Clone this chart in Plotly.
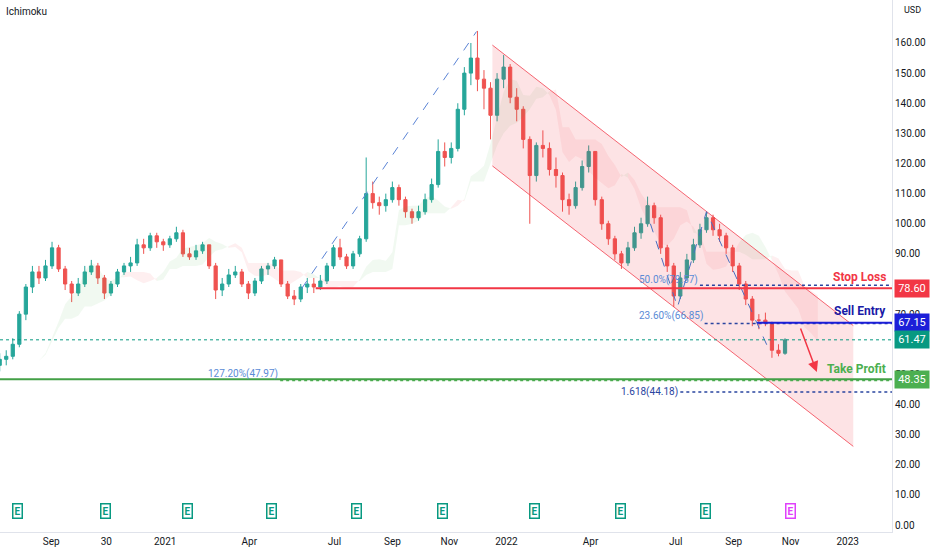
import numpy as np
import pandas as pd
import plotly.graph_objs as go

# weekly candles
opens = [53, 55, 56, 60, 70, 79, 84, 82, 86, 92, 85, 80, 77, 80, 84, 86, 82, 77, 80, 84,
         86, 87, 93, 92, 96, 94, 93, 95, 97, 90, 89, 91, 93, 86, 78, 80, 83, 84, 80, 77,
         81, 85, 86, 88, 80, 76, 75, 79, 80, 79, 81, 86, 92, 89, 86, 90, 95, 110, 107, 106,
         108, 112, 108, 104, 102, 104, 108, 113, 124, 122, 125, 138, 150, 155, 148, 145, 136, 148, 152, 142,
         138, 128, 116, 126, 125, 118, 116, 108, 106, 112, 119, 124, 108, 100, 95, 90, 87, 92, 97, 100,
         106, 102, 92, 86, 76, 82, 88, 93, 98, 102, 98, 96, 92, 86, 80, 75, 68, 68, 67, 58, 57]
highs = [57, 58, 62, 71, 80, 86, 86, 88, 94, 93, 86, 81, 82, 86, 88, 87, 83, 81, 85, 87,
         89, 95, 95, 97, 97, 95, 96, 99, 98, 92, 93, 94, 93, 87, 82, 85, 86, 85, 81, 82,
         86, 87, 89, 88, 81, 78, 80, 82, 82, 83, 87, 93, 95, 90, 91, 96, 122, 114, 109, 110,
         114, 113, 109, 105, 106, 110, 115, 128, 127, 127, 140, 152, 160, 164, 151, 147, 150, 156, 153, 145,
         139, 129, 127, 131, 127, 122, 117, 110, 114, 121, 126, 124, 109, 101, 96, 91, 94, 99, 102, 109,
         107, 103, 93, 87, 84, 90, 95, 100, 104, 103, 100, 97, 93, 87, 81, 76, 70, 70.5, 67.5, 60, 62]
lows = [51, 53, 55, 59, 68, 77, 80, 81, 85, 84, 78, 74, 76, 79, 83, 80, 75, 76, 79, 83,
        84, 86, 90, 91, 92, 91, 92, 94, 89, 88, 88, 90, 85, 75, 76, 79, 82, 79, 75, 76,
        80, 83, 85, 79, 75, 73, 74, 77, 77, 78, 80, 85, 88, 85, 85, 89, 94, 105, 103, 104,
        107, 106, 102, 100, 101, 103, 107, 112, 119, 120, 124, 136, 146, 144, 138, 128, 134, 145, 140, 134,
        125, 100, 114, 122, 116, 112, 104, 103, 105, 111, 117, 106, 98, 93, 88, 85, 86, 91, 95, 99,
        100, 90, 84, 72.4, 75, 81, 87, 92, 97, 96, 94, 90, 84, 78, 73, 66, 65, 66, 55.5, 56, 56.5]
closes = [55, 56, 60, 70, 79, 84, 82, 86, 92, 85, 80, 77, 80, 84, 86, 82, 77, 80, 84, 86,
          87, 93, 92, 96, 94, 93, 95, 97, 90, 89, 91, 93, 86, 78, 80, 83, 84, 80, 77, 81,
          85, 86, 88, 80, 76, 75, 79, 80, 79, 81, 86, 92, 89, 86, 90, 95, 110, 107, 106, 108,
          112, 108, 104, 102, 104, 108, 113, 124, 122, 125, 138, 150, 155, 148, 145, 136, 148, 152, 142, 138,
          128, 116, 126, 125, 118, 116, 108, 106, 112, 119, 124, 108, 100, 95, 90, 87, 92, 97, 100, 106,
          102, 92, 86, 76, 82, 88, 93, 98, 102, 98, 96, 92, 86, 80, 75, 68, 68, 67, 58, 57, 61.47]
dates = pd.date_range("2020-07-08", periods=len(closes), freq="7D")

# levels
stop_loss = 78.60
sell_entry = 67.15
take_profit = 48.35
last_price = 61.47
fib_levels = [79.57, 66.85, 47.97, 44.18]

# channel corners (date, upper, lower)
chan_dates = ["2021-12-17", "2023-01-07"]
chan_upper = [159.3, 66.2]
chan_lower = [119.2, 26.1]

# swing lines
trend_dates = ["2021-05-27", "2021-11-30"]
trend_vals = [78.5, 163.8]
swing_dates = ["2022-06-04", "2022-07-03", "2022-08-03", "2022-10-10"]
swing_vals = [100, 72.4, 104, 57.4]

earn_dates = ["2020-07-27", "2020-10-29", "2021-01-25", "2021-04-25", "2021-07-25",
              "2021-10-25", "2022-01-31", "2022-05-03", "2022-08-02", "2022-11-01"]

tick_dates = ["2020-09-01", "2020-10-30", "2021-01-01", "2021-04-01", "2021-07-01", "2021-09-01",
              "2021-11-01", "2022-01-01", "2022-04-01", "2022-07-01", "2022-09-01", "2022-11-01", "2023-01-01"]
tick_text = ["Sep", "30", "2021", "Apr", "Jul", "Sep", "Nov", "2022", "Apr", "Jul", "Sep", "Nov", "2023"]
price_ticks = [0, 10, 20, 30, 40, 50, 70, 80, 90, 100, 110, 120, 130, 140, 150, 160]  # 60 sits under the last-price tag

X0, X1 = "2020-07-08 08:00", "2023-02-17 10:00"
FONT = "Roboto"

fig = go.Figure()

# ichimoku cloud from weekly bars
hi = np.array(highs)
lo = np.array(lows)
n = len(closes)


def mid(p):
    out = []
    for i in range(n):
        s = max(0, i - p + 1)
        out.append((hi[s:i + 1].max() + lo[s:i + 1].min()) / 2)
    return np.array(out)


span_a = (mid(2) + mid(5)) / 2
span_b = mid(10)
cloud_x = dates + pd.Timedelta(days=35)
up = span_a >= span_b
start = 0
for i in range(1, n + 1):
    if i == n or up[i] != up[start]:
        seg = slice(start, min(i + 1, n))
        col = "rgba(76,175,80,0.08)" if up[start] else "rgba(242,54,69,0.08)"
        fig.add_trace(go.Scatter(x=cloud_x[seg], y=span_b[seg], mode="lines",
                                 line=dict(width=0), hoverinfo="skip", showlegend=False))
        fig.add_trace(go.Scatter(x=cloud_x[seg], y=span_a[seg], mode="lines", fill="tonexty",
                                 fillcolor=col, line=dict(width=0), hoverinfo="skip", showlegend=False))
        start = i

# channel
fig.add_trace(go.Scatter(x=[chan_dates[0], chan_dates[1], chan_dates[1], chan_dates[0], chan_dates[0]],
                         y=[chan_upper[0], chan_upper[1], chan_lower[1], chan_lower[0], chan_upper[0]],
                         fill="toself", fillcolor="rgba(242,54,69,0.14)", mode="lines",
                         line=dict(width=0), showlegend=False, hoverinfo="skip"))
fig.add_trace(go.Scatter(x=chan_dates, y=chan_upper, mode="lines",
                         line=dict(color="rgba(242,54,69,0.75)", width=1), showlegend=False))
fig.add_trace(go.Scatter(x=chan_dates, y=chan_lower, mode="lines",
                         line=dict(color="rgba(242,54,69,0.75)", width=1), showlegend=False))

# dashed swing lines
fig.add_trace(go.Scatter(x=trend_dates, y=trend_vals, mode="lines",
                         line=dict(color="#5b84d6", width=1, dash="dash"), showlegend=False))
fig.add_trace(go.Scatter(x=swing_dates, y=swing_vals, mode="lines",
                         line=dict(color="#4a6fc0", width=1, dash="dash"), showlegend=False))

# horizontal levels
fig.add_trace(go.Scatter(x=[X0, X1], y=[last_price] * 2, mode="lines",
                         line=dict(color="#089981", width=1, dash="dot"), showlegend=False))
fig.add_trace(go.Scatter(x=["2022-07-27", X1], y=[fib_levels[0]] * 2, mode="lines",
                         line=dict(color="#2a45a0", width=1.5, dash="dot"), showlegend=False))
fig.add_trace(go.Scatter(x=["2022-08-01", X1], y=[fib_levels[1]] * 2, mode="lines",
                         line=dict(color="#2a45a0", width=1.5, dash="dot"), showlegend=False))
fig.add_trace(go.Scatter(x=["2021-05-04", X1], y=[fib_levels[2]] * 2, mode="lines",
                         line=dict(color="#4caf50", width=1.5, dash="dot"), showlegend=False))
fig.add_trace(go.Scatter(x=["2022-07-06", X1], y=[fib_levels[3]] * 2, mode="lines",
                         line=dict(color="#2a45a0", width=1.5, dash="dot"), showlegend=False))
fig.add_trace(go.Scatter(x=["2021-06-11", X1], y=[stop_loss] * 2, mode="lines",
                         line=dict(color="#f23645", width=2), showlegend=False))
fig.add_trace(go.Scatter(x=["2022-09-26", X1], y=[sell_entry] * 2, mode="lines",
                         line=dict(color="#1c1fd8", width=2), showlegend=False))
fig.add_trace(go.Scatter(x=[X0, X1], y=[take_profit] * 2, mode="lines",
                         line=dict(color="#43a047", width=2), showlegend=False))

# candles
fig.add_trace(go.Candlestick(x=dates, open=opens, high=highs, low=lows, close=closes,
                             increasing=dict(line=dict(color="#26a69a", width=1), fillcolor="#26a69a"),
                             decreasing=dict(line=dict(color="#ef5350", width=1), fillcolor="#ef5350"),
                             whiskerwidth=0, showlegend=False))

ann = []
# right-side price tags
for val, col in [(stop_loss, "#f23645"), (sell_entry, "#1c1fd8"), (last_price, "#089981"), (take_profit, "#4caf50")]:
    ann.append(dict(x=1, xref="paper", xanchor="left", xshift=2, y=val, yref="y", text=f"{val:.2f}",
                    showarrow=False, bgcolor=col, font=dict(color="white", size=11, family=FONT),
                    width=30, borderpad=2))
# level labels
ann.append(dict(x=X1, xref="x", xanchor="right", xshift=-4, y=82.4, text="<b>Stop Loss</b>", showarrow=False,
                font=dict(color="#f23645", size=12, family=FONT)))
ann.append(dict(x=X1, xref="x", xanchor="right", xshift=-4, y=70.9, text="<b>Sell Entry</b>", showarrow=False,
                font=dict(color="#1a1aa6", size=12, family=FONT)))
ann.append(dict(x=X1, xref="x", xanchor="right", xshift=-4, y=51.9, text="<b>Take Profit</b>", showarrow=False,
                font=dict(color="#4caf50", size=12, family=FONT)))
# fib labels
ann.append(dict(x="2022-07-27", xanchor="right", y=81.3, text="50.0%(79.57)", showarrow=False,
                font=dict(color="#5b8bd6", size=10, family=FONT)))
ann.append(dict(x="2022-08-01", xanchor="right", y=69.4, text="23.60%(66.85)", showarrow=False,
                font=dict(color="#5b8bd6", size=10, family=FONT)))
ann.append(dict(x="2021-05-04", xanchor="right", y=50.1, text="127.20%(47.97)", showarrow=False,
                font=dict(color="#5b8bd6", size=10, family=FONT)))
ann.append(dict(x="2022-07-06", xanchor="right", y=fib_levels[3], text="1.618(44.18)", showarrow=False,
                font=dict(color="#2a45a0", size=10, family=FONT)))
# arrow
ann.append(dict(x="2022-11-29", y=50.8, ax="2022-11-11", ay=65.7, axref="x", ayref="y",
                showarrow=True, arrowhead=2, arrowsize=1.4, arrowwidth=1.5, arrowcolor="#f23645", text=""))
# earnings markers
for i, d in enumerate(earn_dates):
    col = "#e040fb" if i == len(earn_dates) - 1 else "#089981"
    ann.append(dict(x=d, y=0.024, yref="paper", text="<b>E</b>", showarrow=False,
                    font=dict(color=col, size=10, family=FONT), bordercolor=col, borderwidth=1.5,
                    borderpad=1, bgcolor="white"))
# corner texts
ann.append(dict(x=0.005, xref="paper", y=1, yref="paper", yanchor="top", yshift=-4, xanchor="left",
                text="Ichimoku", showarrow=False, font=dict(color="#131722", size=10, family=FONT)))
ann.append(dict(x=1, xref="paper", xanchor="left", xshift=10, y=1, yref="paper", yanchor="top", yshift=-3,
                text="USD", showarrow=False, font=dict(color="#131722", size=9, family=FONT)))

fig.update_layout(
    width=932, height=550,
    margin=dict(l=0, r=40, t=0, b=18),
    paper_bgcolor="white", plot_bgcolor="white",
    font=dict(family=FONT, size=10, color="#131722"),
    showlegend=False,
    annotations=ann,
    xaxis=dict(range=[X0, X1], tickvals=tick_dates, ticktext=tick_text, showgrid=False,
               zeroline=False, rangeslider=dict(visible=False), showline=True, linecolor="#e0e3eb",
               ticks="", tickfont=dict(size=10, color="#131722")),
    yaxis=dict(range=[-2.32, 174.27], side="right", tickvals=price_ticks,
               ticktext=[f"{v:.2f}" for v in price_ticks], showgrid=False, zeroline=False,
               showline=True, linecolor="#e0e3eb", ticks="", tickfont=dict(size=10, color="#131722")),
)

fig.write_html("out.html", config={"displayModeBar": False},
               post_script="document.body.style.margin='0';")
